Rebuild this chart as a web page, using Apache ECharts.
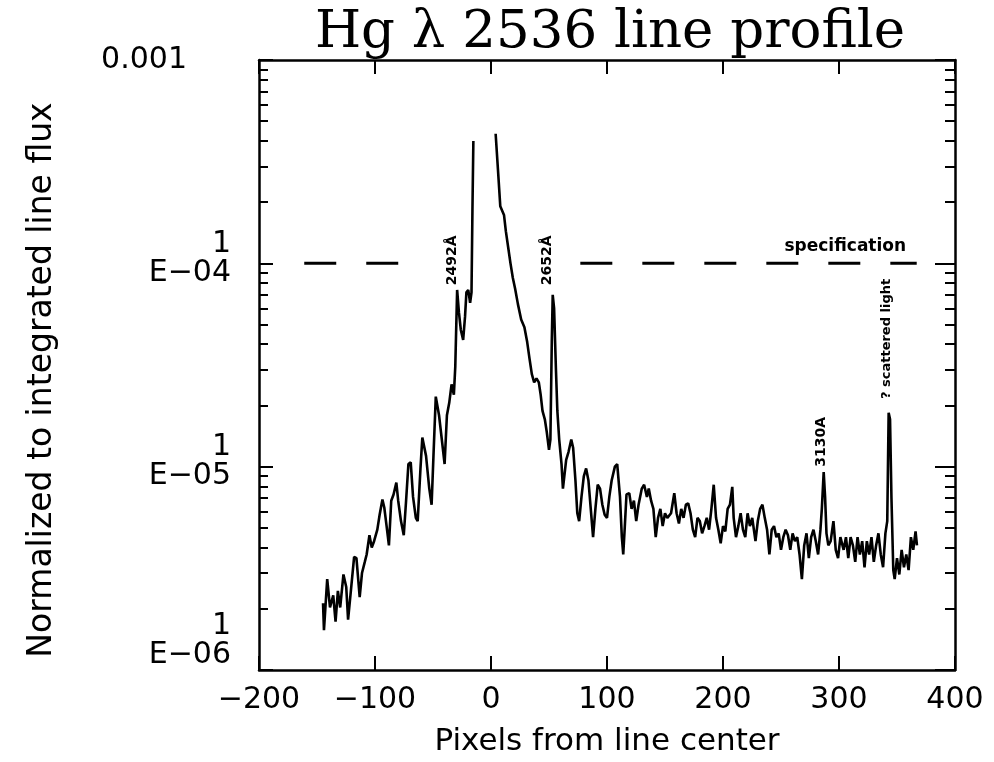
<!DOCTYPE html>
<html>
<head>
<meta charset="utf-8">
<script src="https://cdn.jsdelivr.net/npm/echarts@6/dist/echarts.min.js"></script>
<style>
html,body{margin:0;padding:0;background:#fff;}
#chart{width:994px;height:762px;}
</style>
</head>
<body>
<div id="chart"></div>
<script>
// ---------------- data ----------------
const titleText = 'Hg λ 2536 line profile';
const xAxisTitle = 'Pixels from line center';
const yAxisTitle = 'Normalized to integrated line flux';
const xTickValues = [-200, -100, 0, 100, 200, 300, 400];
const yDecades = [1e-6, 1e-5, 1e-4, 1e-3];

// blue wing of the profile, [pixels from line center, normalized flux]
const leftWing = [
  [-144.8,2.13e-6],[-144,1.57e-6],[-141.2,2.8e-6],[-138.8,2.03e-6],[-136,2.33e-6],[-134,1.73e-6],
  [-132,2.45e-6],[-130,2.03e-6],[-127.2,2.95e-6],[-124.8,2.56e-6],[-123.2,1.77e-6],[-120.8,2.45e-6],
  [-118,3.6e-6],[-116,3.55e-6],[-113.2,2.28e-6],[-111.2,3.0e-6],[-108.8,3.4e-6],[-107.2,3.7e-6],
  [-104.8,4.6e-6],[-102.8,4.0e-6],[-100.8,4.3e-6],[-98,4.9e-6],[-96,5.8e-6],[-93.6,6.9e-6],
  [-92,6.3e-6],[-90,5.1e-6],[-88,4.1e-6],[-86,6.8e-6],[-84,7.3e-6],[-81.6,8.35e-6],
  [-80,6.8e-6],[-77.6,5.4e-6],[-75.2,4.6e-6],[-73.2,6.8e-6],[-71.2,1.03e-5],[-69.2,1.05e-5],
  [-67.2,7.1e-6],[-64.8,5.6e-6],[-63.2,5.4e-6],[-60.8,9.8e-6],[-59.2,1.39e-5],[-56,1.13e-5],
  [-53.2,7.8e-6],[-51.2,6.5e-6],[-49.6,1.13e-5],[-47.6,2.21e-5],[-44.8,1.79e-5],[-42.4,1.36e-5],
  [-40,1.03e-5],[-38,1.79e-5],[-36,2.06e-5],[-34,2.54e-5],[-32,2.26e-5],[-30.8,3.1e-5],
  [-29.2,7.4e-5],[-27.6,5.7e-5],[-26,4.7e-5],[-24,4.2e-5],[-22.4,5.45e-5],[-21.2,7.2e-5],
  [-19.6,7.4e-5],[-18,6.4e-5],[-16.8,7.2e-5],[-16,1.82e-4],[-15.2,4.0e-4]
];

// red wing of the profile, [pixels from line center, normalized flux]
const rightWing = [
  [4,4.34e-4],[6,2.89e-4],[8,1.91e-4],[11.2,1.73e-4],[12.8,1.44e-4],[14.8,1.2e-4],
  [16.8,1.0e-4],[18.8,8.5e-5],[20.8,7.5e-5],[23.2,6.3e-5],[26,5.3e-5],[28.8,4.85e-5],
  [31.2,4.1e-5],[33.2,3.4e-5],[35.2,2.85e-5],[37.2,2.6e-5],[39.2,2.72e-5],[41.2,2.6e-5],
  [42.8,2.26e-5],[44.4,1.88e-5],[46.4,1.71e-5],[48,1.49e-5],[50,1.21e-5],[51.2,1.36e-5],
  [52.4,4.1e-5],[53.2,7.0e-5],[54.4,6.0e-5],[56,2.98e-5],[57.2,1.88e-5],[58.8,1.36e-5],
  [60.8,1.03e-5],[62,7.8e-6],[63.2,8.95e-6],[64.8,1.08e-5],[66.8,1.18e-5],[69.2,1.36e-5],
  [70.8,1.24e-5],[72.8,8.55e-6],[74.4,5.9e-6],[76,5.4e-6],[78,7.1e-6],[80,8.95e-6],
  [82,9.8e-6],[84,8.55e-6],[86,6.2e-6],[88,4.5e-6],[90,6.2e-6],[92,8.15e-6],
  [94,7.8e-6],[96,6.5e-6],[98,5.8e-6],[100,5.6e-6],[102,7.1e-6],[104,8.55e-6],
  [106.8,1.0e-5],[108.8,1.03e-5],[111.2,7.1e-6],[112.8,4.5e-6],[114,3.7e-6],[115.2,4.9e-6],
  [116.8,7.3e-6],[119.2,7.4e-6],[121.2,6.2e-6],[123.2,6.8e-6],[125.2,5.4e-6],[127.2,6.5e-6],
  [130,7.8e-6],[132,8.15e-6],[134.4,7.1e-6],[136,7.8e-6],[138,6.8e-6],[140,6.2e-6],
  [142,4.5e-6],[144,5.6e-6],[146,6.2e-6],[148,5.1e-6],[150,5.9e-6],[152,5.6e-6],
  [155.2,5.9e-6],[158,7.4e-6],[160,5.9e-6],[162,5.25e-6],[164,6.2e-6],[166,5.6e-6],
  [168,6.5e-6],[170,6.6e-6],[172,5.9e-6],[174,4.9e-6],[176,4.5e-6],[178,5.6e-6],
  [180,5.4e-6],[182,4.7e-6],[184,5.1e-6],[186,5.6e-6],[188,4.9e-6],[190,6.2e-6],
  [192,8.15e-6],[194,5.6e-6],[196,4.9e-6],[198,4.2e-6],[200,5.1e-6],[202,4.8e-6],
  [204,6.2e-6],[206,6.5e-6],[208,7.96e-6],[209.2,5.6e-6],[211.2,4.5e-6],[213.2,5.1e-6],
  [215.2,5.9e-6],[217.2,4.9e-6],[219.2,4.5e-6],[221.2,5.9e-6],[223.2,5.1e-6],[225.2,5.6e-6],
  [228,4.3e-6],[230,5.4e-6],[232,6.2e-6],[234,6.5e-6],[236,5.6e-6],[238,4.9e-6],
  [240,3.7e-6],[242,4.9e-6],[244,5.1e-6],[246,4.5e-6],[248,4.7e-6],[250,3.9e-6],
  [252,4.5e-6],[254,4.9e-6],[256,4.6e-6],[258,3.9e-6],[260,4.7e-6],[262,4.3e-6],
  [264,4.5e-6],[266,3.7e-6],[268,2.8e-6],[270,4.1e-6],[272,4.7e-6],[274,3.55e-6],
  [276,4.5e-6],[278,4.9e-6],[280,4.3e-6],[282,3.7e-6],[284,4.9e-6],[285.2,6.2e-6],
  [286.8,9.4e-6],[288,7.1e-6],[289.2,4.7e-6],[290.8,4.1e-6],[292.8,4.3e-6],[295.2,5.4e-6],
  [297.2,3.9e-6],[299.2,3.55e-6],[301.2,4.5e-6],[304,3.9e-6],[306,4.5e-6],[308,3.55e-6],
  [310,4.5e-6],[312,4.1e-6],[314,3.4e-6],[316,4.5e-6],[318,3.7e-6],[320,4.3e-6],
  [322,3.2e-6],[324,4.3e-6],[326,3.7e-6],[328,4.5e-6],[330,3.4e-6],[332,4.1e-6],
  [334,4.7e-6],[336,3.7e-6],[338,3.2e-6],[340,4.7e-6],[341.6,5.4e-6],[342.8,1.84e-5],
  [344,1.71e-5],[345.2,7.1e-6],[346.8,3.1e-6],[348,2.8e-6],[350,3.55e-6],[352,2.95e-6],
  [354,3.9e-6],[356,3.2e-6],[358,3.7e-6],[360,3.1e-6],[362,4.5e-6],[364,3.9e-6],
  [366,4.8e-6],[367.2,4.1e-6]
];

// dashed "specification" level and the x-extent of its two dashed runs
const specLevel = 1e-4;
const specRuns = [[-161, -78], [77, 367]];

// hand-written annotations: text and data anchor
const annoLabels = ['2492Å', '2652Å', '3130A', '? scattered light', 'specification'];
const annoX = [-33, 49, 285, 341, 253];
const annoY = [7.8e-5, 7.8e-5, 1.0e-5, 2.15e-5, 1.1e-4];

// ---------------- chart ----------------
const minorTicks = [];
for (let e = -6; e < -3; e++) {
  for (let m = 2; m <= 9; m++) minorTicks.push(m * Math.pow(10, e));
}

const profileData = leftWing.concat([[-5, '-']], rightWing);
const specData = [];
specRuns.forEach((r, i) => {
  if (i > 0) specData.push([(specRuns[i - 1][1] + r[0]) / 2, '-']);
  specData.push([r[0], specLevel], [r[1], specLevel]);
});

const FONT = '"DejaVu Sans", sans-serif';
const BLACK = '#000';

function yLabel(v) {
  const e = Math.round(Math.log10(v));
  if (e === -3) return '{t|0.001}';
  const s = '{a|1}\n{a|E\u2212' + (e < -9 ? '' : '0') + Math.abs(e) + '}';
  return e === -6 ? s + '\n{S| }\n{S| }' : s + '\n{s| }';
}

const labelRich = {
  t: { fontFamily: FONT, fontSize: 30, color: BLACK, align: 'right', padding: [0, 44, 0, 0] },
  a: { fontFamily: FONT, fontSize: 30, color: BLACK, align: 'right', lineHeight: 29 },
  s: { fontFamily: FONT, fontSize: 10, color: BLACK, align: 'right', lineHeight: 10 },
  S: { fontFamily: FONT, fontSize: 10, color: BLACK, align: 'right', lineHeight: 29 }
};

const logAxisBase = {
  type: 'log', logBase: 10, min: yDecades[0], max: yDecades[yDecades.length - 1],
  splitLine: { show: false }, minorTick: { show: false }
};

const chart = echarts.init(document.getElementById('chart'), null, { renderer: 'canvas' });
chart.setOption({
  animation: false,
  backgroundColor: '#fff',
  title: {
    text: titleText, left: 605, top: 2, textAlign: 'center',
    textStyle: { fontFamily: '"DejaVu Serif", serif', fontSize: 53, fontWeight: 'normal', color: BLACK }
  },
  grid: { left: 259, right: 39, top: 60, bottom: 92, containLabel: false },
  xAxis: [
    {
      type: 'value', position: 'bottom', min: xTickValues[0], max: xTickValues[xTickValues.length - 1], interval: 100,
      axisLine: { show: true, onZero: false, lineStyle: { color: BLACK, width: 2.5 } },
      axisTick: { show: true, inside: true, length: 14, lineStyle: { color: BLACK, width: 2 } },
      axisLabel: {
        show: true, showMinLabel: true, showMaxLabel: true, margin: 15,
        fontFamily: FONT, fontSize: 30, color: BLACK,
        formatter: v => (v < 0 ? '\u2212' + Math.abs(v) : String(v))
      },
      splitLine: { show: false },
      name: xAxisTitle, nameLocation: 'middle', nameGap: 56,
      nameTextStyle: { fontFamily: FONT, fontSize: 31, color: BLACK }
    },
    {
      type: 'value', position: 'top', min: xTickValues[0], max: xTickValues[xTickValues.length - 1], interval: 100,
      axisLine: { show: true, onZero: false, lineStyle: { color: BLACK, width: 2.5 } },
      axisTick: { show: true, inside: true, length: 14, lineStyle: { color: BLACK, width: 2 } },
      axisLabel: { show: false }, splitLine: { show: false }
    }
  ],
  yAxis: [
    Object.assign({}, logAxisBase, {
      position: 'left',
      axisLine: { show: true, onZero: false, lineStyle: { color: BLACK, width: 2.5 } },
      axisTick: { show: true, inside: true, length: 14, lineStyle: { color: BLACK, width: 2 } },
      axisLabel: {
        show: true, showMinLabel: true, showMaxLabel: true, margin: 28, align: 'right',
        fontFamily: FONT, fontSize: 30, color: BLACK,
        formatter: yLabel, rich: labelRich
      },
      name: yAxisTitle, nameLocation: 'middle', nameGap: 200,
      nameTextStyle: { fontFamily: FONT, fontSize: 33, color: BLACK, padding: [0, 30, 0, 0] }
    }),
    Object.assign({}, logAxisBase, {
      position: 'left',
      axisLine: { show: false, onZero: false },
      axisTick: { show: true, inside: true, length: 9, customValues: minorTicks, lineStyle: { color: BLACK, width: 2 } },
      axisLabel: { show: false }
    }),
    Object.assign({}, logAxisBase, {
      position: 'right',
      axisLine: { show: true, onZero: false, lineStyle: { color: BLACK, width: 2.5 } },
      axisTick: { show: true, inside: true, length: 20, lineStyle: { color: BLACK, width: 2 } },
      axisLabel: { show: false }
    }),
    Object.assign({}, logAxisBase, {
      position: 'right',
      axisLine: { show: false, onZero: false },
      axisTick: { show: true, inside: true, length: 10, customValues: minorTicks, lineStyle: { color: BLACK, width: 2 } },
      axisLabel: { show: false }
    })
  ],
  series: [
    {
      name: 'Hg 2536 profile', type: 'line', xAxisIndex: 0, yAxisIndex: 0,
      data: profileData, showSymbol: false, symbol: 'none', connectNulls: false,
      lineStyle: { color: BLACK, width: 2.6 }, z: 5
    },
    {
      name: 'specification', type: 'line', xAxisIndex: 0, yAxisIndex: 0,
      data: specData, showSymbol: false, symbol: 'none', connectNulls: false,
      lineStyle: { color: BLACK, width: 3, type: [32, 30] }, z: 4
    }
  ]
});

// annotations positioned through the chart's own coordinate conversion
const annoStyle = [
  { rot: 90, size: 14 }, { rot: 90, size: 14 }, { rot: 90, size: 14 },
  { rot: 90, size: 13 }, { rot: 0, size: 17 }
];
const graphics = annoLabels.map((t, i) => {
  const p = chart.convertToPixel({ xAxisIndex: 0, yAxisIndex: 0 }, [annoX[i], annoY[i]]);
  const st = annoStyle[i];
  return {
    type: 'text', x: p[0], y: p[1], rotation: st.rot * Math.PI / 180, z: 10,
    style: {
      text: t, fill: BLACK,
      font: 'bold ' + st.size + 'px ' + FONT,
      align: 'left', verticalAlign: st.rot ? 'middle' : 'bottom'
    }
  };
});
chart.setOption({ graphic: graphics });
</script>
</body>
</html>
